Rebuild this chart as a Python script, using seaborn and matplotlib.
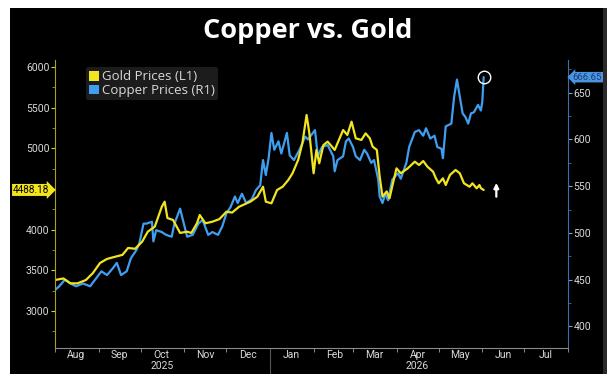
import numpy as np
import pandas as pd
import matplotlib
matplotlib.use("Agg")
import matplotlib.pyplot as plt
import matplotlib.dates as mdates
from matplotlib.patches import Rectangle, Patch
from matplotlib.ticker import MultipleLocator
import seaborn as sns

# Gold price (left axis, USD/oz)
gold_dates = [
    "2025-08-01", "2025-08-07", "2025-08-12", "2025-08-17", "2025-08-23", "2025-08-28",
    "2025-09-02", "2025-09-07", "2025-09-13", "2025-09-18", "2025-09-22", "2025-09-27",
    "2025-10-02", "2025-10-06", "2025-10-11", "2025-10-16", "2025-10-18", "2025-10-20",
    "2025-10-24", "2025-10-29", "2025-11-03", "2025-11-06", "2025-11-10", "2025-11-12",
    "2025-11-16", "2025-11-21", "2025-11-26", "2025-12-01", "2025-12-05", "2025-12-10",
    "2025-12-18", "2025-12-23", "2025-12-27", "2025-12-29", "2026-01-02", "2026-01-06",
    "2026-01-10", "2026-01-14", "2026-01-17", "2026-01-21", "2026-01-24", "2026-01-27",
    "2026-01-29", "2026-02-01", "2026-02-03", "2026-02-05", "2026-02-08", "2026-02-11",
    "2026-02-14", "2026-02-16", "2026-02-18", "2026-02-22", "2026-02-25", "2026-02-28",
    "2026-03-03", "2026-03-07", "2026-03-10", "2026-03-13", "2026-03-15", "2026-03-18",
    "2026-03-20", "2026-03-22", "2026-03-25", "2026-03-27", "2026-03-30", "2026-04-01",
    "2026-04-04", "2026-04-09", "2026-04-14", "2026-04-17", "2026-04-20", "2026-04-23",
    "2026-04-27", "2026-04-29", "2026-05-01", "2026-05-04", "2026-05-06", "2026-05-09",
    "2026-05-13", "2026-05-16", "2026-05-19", "2026-05-23", "2026-05-25", "2026-05-28",
    "2026-05-30", "2026-05-31", "2026-06-02",
]
gold_values = [
    3381, 3400, 3340, 3340, 3381, 3467,
    3590, 3640, 3668, 3690, 3775, 3765,
    3852, 3975, 4037, 4282, 4344, 4143,
    4119, 3960, 3975, 3960, 4078, 4180,
    4078, 4098, 4130, 4221, 4210, 4282,
    4344, 4405, 4528, 4344, 4324, 4488,
    4528, 4611, 4693, 4857, 5062, 5410,
    5184, 4693, 4980, 4816, 5041, 5082,
    5021, 4980, 5062, 5225, 5164, 5328,
    5123, 5103, 5184, 5123, 5021, 4980,
    4652, 4406, 4470, 4385, 4611, 4754,
    4693, 4754, 4836, 4795, 4844, 4774,
    4713, 4631, 4570, 4631, 4549, 4672,
    4734, 4693, 4570, 4528, 4570, 4508,
    4549, 4510, 4488.18,
]

# Copper price (right axis, USc/lb)
copper_dates = [
    "2025-08-01", "2025-08-04", "2025-08-08", "2025-08-12", "2025-08-16", "2025-08-21",
    "2025-08-26", "2025-08-31", "2025-09-03", "2025-09-07", "2025-09-11", "2025-09-14",
    "2025-09-17", "2025-09-21", "2025-09-24", "2025-09-28", "2025-09-30", "2025-10-03",
    "2025-10-05", "2025-10-09", "2025-10-10", "2025-10-12", "2025-10-16", "2025-10-19",
    "2025-10-23", "2025-10-25", "2025-10-29", "2025-10-31", "2025-11-03", "2025-11-07",
    "2025-11-11", "2025-11-14", "2025-11-18", "2025-11-21", "2025-11-25", "2025-11-28",
    "2025-12-01", "2025-12-04", "2025-12-07", "2025-12-09", "2025-12-12", "2025-12-15",
    "2025-12-19", "2025-12-22", "2025-12-25", "2025-12-27", "2025-12-29", "2025-12-31",
    "2026-01-02", "2026-01-04", "2026-01-07", "2026-01-09", "2026-01-13", "2026-01-15",
    "2026-01-18", "2026-01-22", "2026-01-26", "2026-01-28", "2026-02-02", "2026-02-04",
    "2026-02-07", "2026-02-11", "2026-02-15", "2026-02-16", "2026-02-18", "2026-02-22",
    "2026-02-24", "2026-02-26", "2026-03-01", "2026-03-03", "2026-03-06", "2026-03-09",
    "2026-03-11", "2026-03-14", "2026-03-16", "2026-03-19", "2026-03-20", "2026-03-22",
    "2026-03-24", "2026-03-26", "2026-03-29", "2026-04-02", "2026-04-04", "2026-04-08",
    "2026-04-10", "2026-04-14", "2026-04-17", "2026-04-20", "2026-04-22", "2026-04-25",
    "2026-04-28", "2026-04-30", "2026-05-03", "2026-05-04", "2026-05-06", "2026-05-10",
    "2026-05-12", "2026-05-14", "2026-05-16", "2026-05-18", "2026-05-20", "2026-05-22",
    "2026-05-24", "2026-05-26", "2026-05-29", "2026-05-31", "2026-06-01", "2026-06-02",
]
copper_values = [
    439, 443, 450, 446, 443, 446,
    443, 453, 459, 455, 462, 468,
    455, 459, 473, 482, 489, 510,
    510, 512, 491, 503, 501, 498,
    496, 510, 526, 514, 496, 498,
    510, 514, 498, 501, 498, 507,
    521, 528, 539, 532, 542, 532,
    536, 546, 551, 578, 562, 580,
    607, 589, 598, 585, 607, 583,
    578, 589, 603, 600, 610, 582,
    592, 594, 582, 566, 578, 582,
    598, 601, 592, 582, 578, 589,
    585, 575, 578, 557, 539, 532,
    542, 535, 557, 564, 558, 575,
    592, 608, 610, 604, 612, 601,
    604, 592, 590, 580, 614, 617,
    646, 664, 646, 628, 624, 617,
    628, 629, 637, 631, 640, 666.65,
]

series_labels = ["Gold Prices (L1)", "Copper Prices (R1)"]
year_labels = ["2025", "2026"]
title_text = "Copper vs. Gold"

gold = pd.DataFrame({"date": pd.to_datetime(gold_dates), "price": gold_values})
copper = pd.DataFrame({"date": pd.to_datetime(copper_dates), "price": copper_values})

GOLD_C = "#f2e41e"
COPPER_C = "#3f9ef0"
TEXT_C = "#d9d9d9"
TICK_FONT = ["Roboto", "DejaVu Sans"]

sns.set_theme(style="dark")
plt.rcParams["font.family"] = TICK_FONT

fig = plt.figure(figsize=(6.15, 3.74), dpi=100, facecolor="white")
# black panel behind everything, framed by a thin white margin
fig.patches.append(Rectangle((10 / 615, 0), 597 / 615, 1 - 8 / 374,
                             transform=fig.transFigure, facecolor="black",
                             edgecolor="none", zorder=-5))
fig.patches.append(Rectangle((603 / 615, 0), 4 / 615, 1 - 8 / 374,
                             transform=fig.transFigure, facecolor="#2a2a2a",
                             edgecolor="none", zorder=-4))

ax = fig.add_axes([55 / 615, 26 / 374, 513 / 615, 288 / 374])
ax2 = ax.twinx()
ax2.set_facecolor("black")
ax.set_zorder(ax2.get_zorder() + 1)
ax.patch.set_visible(False)

sns.lineplot(data=copper, x="date", y="price", ax=ax2, color=COPPER_C,
             linewidth=1.6, legend=False)
sns.lineplot(data=gold, x="date", y="price", ax=ax, color=GOLD_C,
             linewidth=1.6, legend=False)

# Axis ranges
ax.set_xlim(pd.Timestamp("2025-08-01"), pd.Timestamp("2026-08-01"))
ax.set_ylim(2545, 6086)
ax2.set_ylim(377, 685)
ax.set_xlabel("")
ax.set_ylabel("")
ax2.set_xlabel("")
ax2.set_ylabel("")
ax.grid(False)
ax2.grid(False)

# Spines
for a in (ax, ax2):
    for s in a.spines.values():
        s.set_visible(False)
ax.spines["left"].set_visible(True)
ax.spines["left"].set_color("#a8a020")
ax.spines["bottom"].set_visible(True)
ax.spines["bottom"].set_color("#8a8a8a")
ax2.spines["right"].set_visible(True)
ax2.spines["right"].set_color("#3a6fb0")
for s in ("left", "bottom"):
    ax.spines[s].set_linewidth(0.8)
ax2.spines["right"].set_linewidth(0.8)

# Left axis ticks
ax.set_yticks([3000, 3500, 4000, 4500, 5000, 5500, 6000])
ax.set_yticklabels(["3000", "3500", "4000", "", "5000", "5500", "6000"])
ax.yaxis.set_minor_locator(MultipleLocator(250))
ax.tick_params(axis="y", which="major", left=True, length=3, width=0.8,
               color="#d8cf2a", labelcolor=TEXT_C, labelsize=7.5, pad=1)
ax.tick_params(axis="y", which="minor", left=True, length=2, width=0.6,
               color="#a8a020")

# Right axis ticks
ax2.yaxis.set_major_locator(MultipleLocator(50))
ax2.yaxis.set_minor_locator(MultipleLocator(25))
ax2.tick_params(axis="y", which="major", left=False, right=True, length=3,
                width=0.8, color="#6fa8e0", labelcolor=TEXT_C, labelsize=7.5,
                pad=1)
ax2.tick_params(axis="y", which="minor", left=False, right=True, length=2,
                width=0.6, color="#3a6fb0")
ax2.tick_params(axis="x", which="both", bottom=False, labelbottom=False)

# Month axis: ticks at month boundaries, names mid-month
ax.xaxis.set_major_locator(mdates.MonthLocator())
ax.xaxis.set_major_formatter(plt.NullFormatter())
ax.xaxis.set_minor_locator(mdates.MonthLocator(bymonthday=16))
ax.xaxis.set_minor_formatter(mdates.DateFormatter("%b"))
ax.tick_params(axis="x", which="major", bottom=True, length=3, width=0.7,
               color="#8a8a8a")
ax.tick_params(axis="x", which="minor", bottom=True, length=0,
               labelcolor=TEXT_C, labelsize=7.5, pad=1.5)

xtrans = ax.get_xaxis_transform()
for yr_label, mid in zip(year_labels, ["2025-10-16", "2026-04-16"]):
    ax.text(pd.Timestamp(mid), -0.044, yr_label, transform=xtrans,
            ha="center", va="top", color=TEXT_C, fontsize=7.5)
ax.plot([pd.Timestamp("2026-01-01")] * 2, [0, -0.1], transform=xtrans,
        color="#555555", lw=0.8, clip_on=False)

# Last-value tags
yt = ax.get_yaxis_transform()
ax.annotate(f"{gold_values[-1]:.2f}", xy=(0, gold_values[-1]), xycoords=yt,
            xytext=(-4, 0), textcoords="offset points", ha="right", va="center",
            color="black", fontsize=7.2,
            bbox=dict(boxstyle="rarrow,pad=0.1", fc=GOLD_C, ec="none"),
            annotation_clip=False)
yt2 = ax2.get_yaxis_transform()
ax2.annotate(f"{copper_values[-1]:.2f}", xy=(1, copper_values[-1]), xycoords=yt2,
             xytext=(3.5, 0), textcoords="offset points", ha="left", va="center",
             color="#1b3d7a", fontsize=6.8,
             bbox=dict(boxstyle="larrow,pad=0.08", fc="#4a94e0", ec="none"),
             annotation_clip=False)

# Highlight latest copper print
last_date = copper["date"].iloc[-1]
ax2.plot([last_date], [copper_values[-1]], marker="o", markersize=9,
         markerfacecolor="none", markeredgecolor="white", markeredgewidth=1.0)
arrow_x = last_date + pd.Timedelta(days=9)
ax.annotate("", xy=(arrow_x, 4575), xytext=(arrow_x, 4405),
            arrowprops=dict(arrowstyle="-|>", color="white", lw=1.6,
                            mutation_scale=7, shrinkA=0, shrinkB=0))

# Legend
handles = [Patch(facecolor=GOLD_C, edgecolor="none"),
           Patch(facecolor=COPPER_C, edgecolor="none")]
leg = ax.legend(handles, series_labels, loc="upper left",
                bbox_to_anchor=(0.06, 0.975), frameon=True,
                handlelength=0.75, handleheight=0.75, handletextpad=0.25,
                labelspacing=0.05, borderpad=0.25, borderaxespad=0,
                prop={"family": ["Open Sans", "DejaVu Sans"], "size": 9.5})
leg.get_frame().set_facecolor("#1c1c1c")
leg.get_frame().set_edgecolor("none")
leg.get_frame().set_alpha(1)
for t in leg.get_texts():
    t.set_color(TEXT_C)

fig.text(308 / 615, 1 - 31 / 374, title_text, ha="center", va="center",
         color="white", fontsize=19.5, fontweight="bold",
         family=["Open Sans", "DejaVu Sans"])

fig.savefig("out.png", dpi=100, facecolor=fig.get_facecolor())
